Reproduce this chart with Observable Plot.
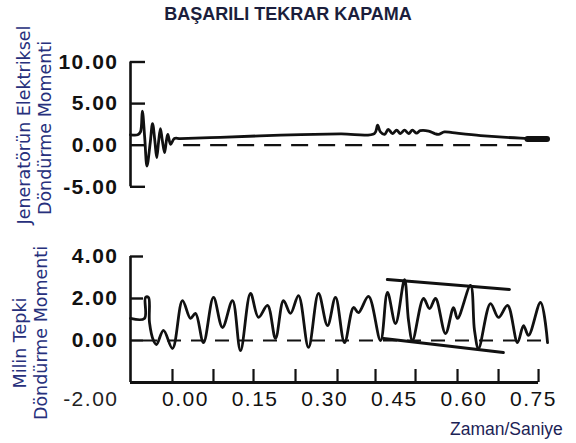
<!DOCTYPE html>
<html>
<head>
<meta charset="utf-8">
<script src="https://cdn.jsdelivr.net/npm/d3@7"></script>
<script src="https://cdn.jsdelivr.net/npm/@observablehq/plot@0.6"></script>
<style>
  body { margin: 0; background: #fff; }
  #wrap { position: relative; width: 576px; height: 443px; overflow: hidden; font-family: "Liberation Sans", Arial, sans-serif; }
  #wrap > svg, #wrap > figure { position: absolute; left: 0; top: 0; margin: 0; }
  #wrap svg text { letter-spacing: 1.5px; }
  #title { position: absolute; left: 0; width: 576px; top: 5px; text-align: center; font-size: 18px; line-height: 18px; font-weight: bold; color: #1b1e3c; }
  .lab { position: absolute; width: 260px; height: 20px; line-height: 20px; text-align: center; transform: rotate(-90deg); font-family: "DejaVu Sans", sans-serif; font-size: 17.5px; color: #27307c; white-space: nowrap; }
  #xlab { position: absolute; left: 450px; top: 419px; font-size: 17.5px; line-height: 20px; color: #1c2356; white-space: nowrap; }
</style>
</head>
<body>
<div id="wrap">
  <div id="title">BAŞARILI TEKRAR KAPAMA</div>
  <div class="lab" style="left:-106px; top:115px;">Jeneratörün Elektriksel</div>
  <div class="lab" style="left:-85px; top:118px;">Döndürme Momenti</div>
  <div class="lab" style="left:-110px; top:333px;">Milin Tepki</div>
  <div class="lab" style="left:-89px; top:323px;">Döndürme Momenti</div>
  <div id="xlab">Zaman/Saniye</div>
</div>
<script>
// ---- data (time in seconds, torque values) ----
const xDomain = [-0.1185, 0.765];

const topT = [-0.1185, -0.103, -0.097, -0.093, -0.088, -0.083, -0.076, -0.071, -0.066, -0.062, -0.058, -0.054, -0.050, -0.045, -0.041, -0.038, -0.032, -0.024, -0.011, 0.075, 0.205, 0.334, 0.407, 0.414, 0.420, 0.429, 0.437, 0.446, 0.455, 0.463, 0.472, 0.481, 0.489, 0.498, 0.506, 0.524, 0.537, 0.545, 0.558, 0.575, 0.636, 0.722, 0.765];
const topV = [1.25, 1.25, 1.6, 4.1, 1.0, -2.5, 0.3, 2.6, 0.5, -1.5, 0.4, 2.0, 0.6, -0.9, 0.6, 1.3, 0.1, 0.8, 0.8, 0.95, 1.2, 1.35, 1.4, 2.4, 1.6, 1.3, 1.9, 1.4, 1.8, 1.4, 1.8, 1.4, 1.8, 1.45, 1.75, 1.7, 1.4, 1.3, 1.6, 1.5, 1.15, 0.85, 0.8];
const topEndT = [0.737, 0.779];
const topEndV = [0.75, 0.75];

const botT = [-0.1185, -0.0884, -0.0862, -0.0797, -0.0776, -0.0690, -0.0625, -0.0474, -0.0280, -0.0065, 0.0108, 0.0216, 0.0388, 0.0603, 0.0797, 0.1013, 0.1185, 0.1401, 0.1573, 0.1767, 0.1940, 0.2112, 0.2263, 0.2435, 0.2651, 0.2866, 0.3060, 0.3233, 0.3427, 0.3621, 0.3728, 0.3944, 0.4203, 0.4353, 0.4526, 0.4720, 0.4806, 0.4892, 0.5129, 0.5259, 0.5388, 0.5603, 0.5776, 0.5862, 0.6142, 0.6228, 0.6315, 0.6573, 0.6746, 0.6940, 0.7155, 0.7284, 0.7392, 0.7651, 0.7802];
const botV = [1.05, 1.05, 2.05, 2.05, 0.86, 0.0, -0.19, 0.48, -0.38, 1.90, 1.05, 1.29, -0.10, 2.05, 0.62, 1.90, -0.48, 2.24, 1.10, 1.67, 0.10, 1.90, 1.29, 2.14, -0.33, 2.24, 0.71, 2.05, -0.10, 1.57, 1.33, 2.10, 0.00, 2.29, 0.81, 2.90, 0.95, 0.00, 2.00, 1.52, 2.00, 0.33, 1.57, 1.05, 2.62, 0.48, -0.38, 1.76, 1.10, 1.67, -0.10, 0.71, 0.24, 1.81, -0.10];

const envTopT = [0.435, 0.698];
const envTopV = [2.90, 2.43];
const envBotT = [0.427, 0.685];
const envBotV = [0.10, -0.57];

const topYTicks = [-5, 0, 5, 10];
const botYTicks = [0, 2, 4];
const botYLow = [-2];
const xTickMarks = [-0.028, 0.0603, 0.1466, 0.2371, 0.3276, 0.4095, 0.4957, 0.5862, 0.6746, 0.7608];
const xTickLabels = [0, 0.15, 0.30, 0.45, 0.60, 0.75];

// ---- build ----
const topData = topT.map((t, i) => ({t, v: topV[i]}));
const topEnd = topEndT.map((t, i) => ({t, v: topEndV[i]}));
const botData = botT.map((t, i) => ({t, v: botV[i]}));
const envTop = envTopT.map((t, i) => ({t, v: envTopV[i]}));
const envBot = envBotT.map((t, i) => ({t, v: envBotV[i]}));
const fmt = d => d.toFixed(2);

const common = {
  width: 576, height: 443, marginLeft: 130, marginRight: 36,
  style: {background: "transparent", fontFamily: "Liberation Sans, Arial, sans-serif", fontSize: "21px", overflow: "visible", color: "#111"}
};

const topPlot = Plot.plot({
  ...common,
  marginTop: 61, marginBottom: 257,
  x: {domain: xDomain, axis: null},
  y: {domain: [-5, 10], range: [186.3, 61.5], axis: null},
  marks: [
    Plot.ruleY([0], {x1: -0.004, x2: 0.726, stroke: "#111", strokeWidth: 2.2, strokeDasharray: "17,10"}),
    Plot.ruleX([xDomain[0]], {y1: -5, y2: 10, stroke: "#111", strokeWidth: 2.6}),
    Plot.ruleY(topYTicks, {x1: xDomain[0], x2: -0.0862, stroke: "#111", strokeWidth: 2.4}),
    Plot.axisY(topYTicks, {label: null, tickSize: 0, tickPadding: 12, tickFormat: fmt, fontWeight: "bold", fontSize: 21, fill: "#111"}),
    Plot.line(topData, {x: "t", y: "v", stroke: "#111", strokeWidth: 2.8, strokeLinejoin: "round", curve: "catmull-rom"}),
    Plot.line(topEnd, {x: "t", y: "v", stroke: "#111", strokeWidth: 6})
  ]
});

const botPlot = Plot.plot({
  ...common,
  marginTop: 256, marginBottom: 61,
  x: {domain: xDomain, axis: null},
  y: {domain: [-2, 4], range: [382, 256], axis: null},
  marks: [
    Plot.ruleY([0], {x1: -0.0905, x2: 0.776, stroke: "#111", strokeWidth: 2, strokeDasharray: "14,10"}),
    Plot.ruleX([xDomain[0]], {y1: -2, y2: 4, stroke: "#111", strokeWidth: 2.6}),
    Plot.ruleY(botYTicks, {x1: xDomain[0], x2: -0.0905, stroke: "#111", strokeWidth: 2.4}),
    Plot.ruleY(botYLow, {x1: xDomain[0], x2: 0.7608, stroke: "#111", strokeWidth: 2.8}),
    Plot.ruleX(xTickMarks, {y1: -2, y2: -1.38, stroke: "#111", strokeWidth: 2.2}),
    Plot.axisY(botYTicks, {label: null, tickSize: 0, tickPadding: 12, tickFormat: fmt, fontWeight: "bold", fontSize: 21, fill: "#111"}),
    Plot.text(botYLow, {x: xDomain[0], y: d => d, dx: -12, dy: 17, text: fmt, textAnchor: "end", fontSize: 21, fill: "#222"}),
    Plot.text(xTickLabels, {x: d => d, y: -2, dy: 17, text: fmt, fontSize: 21, fill: "#111"}),
    Plot.line(botData, {x: "t", y: "v", stroke: "#111", strokeWidth: 2.8, strokeLinejoin: "round", curve: "catmull-rom"}),
    Plot.line(envTop, {x: "t", y: "v", stroke: "#111", strokeWidth: 3}),
    Plot.line(envBot, {x: "t", y: "v", stroke: "#111", strokeWidth: 3})
  ]
});

const wrap = document.getElementById("wrap");
wrap.appendChild(topPlot);
wrap.appendChild(botPlot);
</script>
</body>
</html>
